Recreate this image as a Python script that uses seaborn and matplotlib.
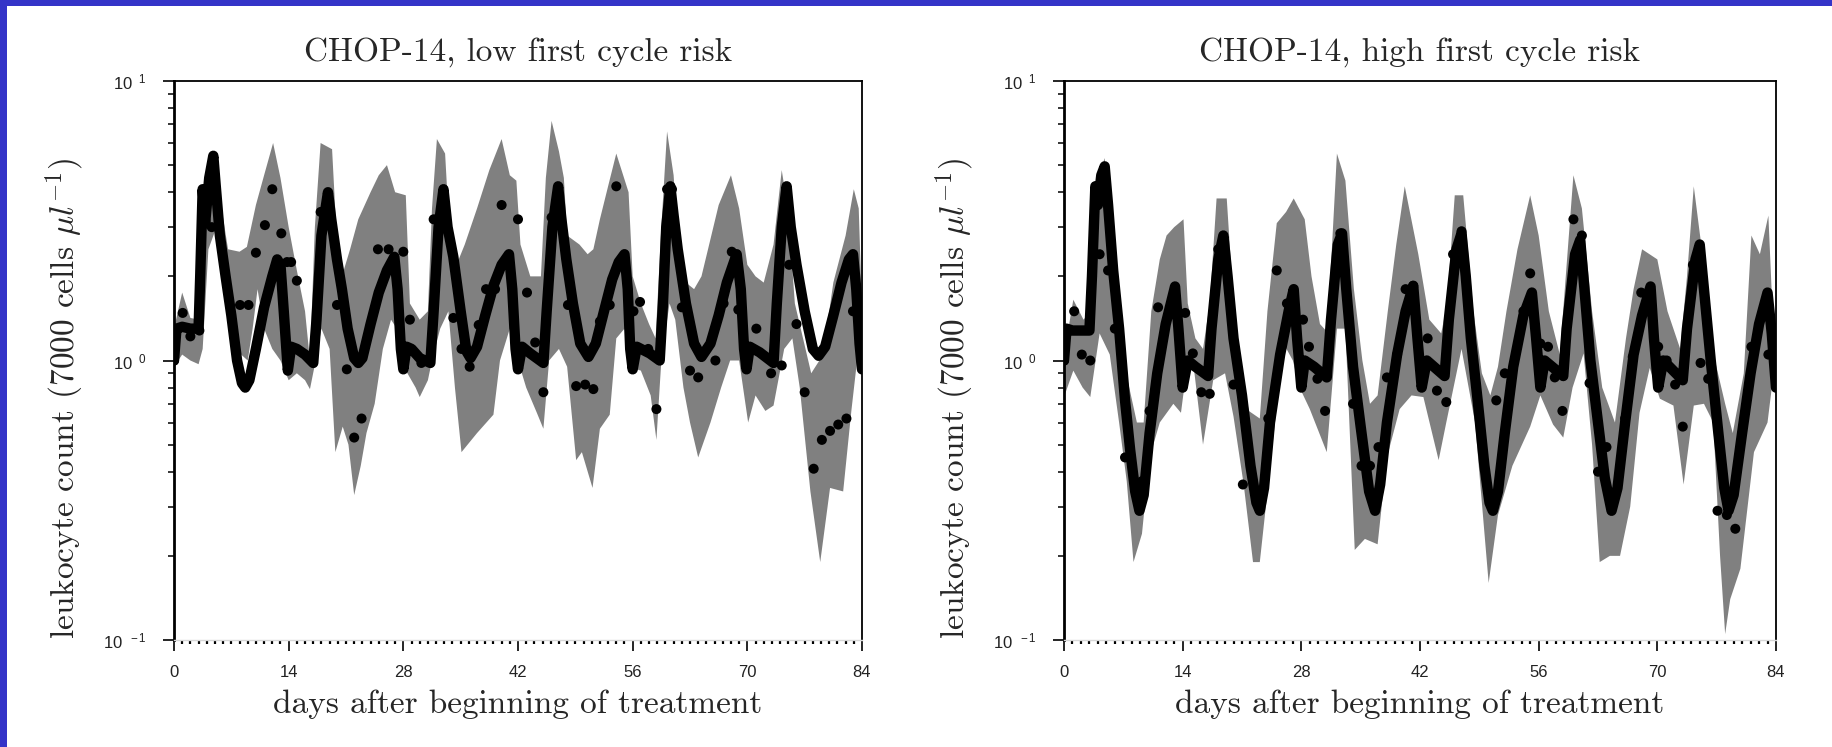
import numpy as np
import matplotlib
matplotlib.use("Agg")
import matplotlib.pyplot as plt
from matplotlib.patches import Rectangle
from matplotlib.ticker import MultipleLocator, NullFormatter
import seaborn as sns

# ---- low first cycle risk (left panel) ----
low_line_x = [0.0, 0.3, 1.0, 2.0, 3.0, 3.2, 3.5, 3.8, 4.3, 4.8, 5.1, 5.6, 6.3, 7.0, 7.7, 8.3, 8.7, 9.2, 10.0,
              11.0, 12.0, 12.6, 13.0, 13.4, 13.9, 14.3, 15.0, 16.0, 17.0, 17.4, 18.0, 18.8, 19.2, 19.9, 20.5,
              21.2, 22.0, 22.5, 23.0, 24.0, 25.0, 26.0, 26.9, 27.3, 27.7, 28.0, 28.4, 29.0, 30.0, 31.3, 31.7,
              32.3, 32.9, 33.4, 34.1, 35.0, 35.7, 36.2, 37.0, 38.0, 39.0, 40.0, 40.9, 41.3, 41.7, 42.0, 42.5,
              43.5, 45.1, 45.5, 46.2, 46.9, 47.3, 47.9, 48.7, 49.6, 50.6, 51.5, 52.5, 53.5, 54.3, 55.0, 55.4,
              55.7, 56.0, 56.5, 58.1, 59.3, 59.7, 60.1, 60.6, 61.0, 61.5, 62.5, 63.5, 64.4, 65.5, 66.5, 67.5,
              68.7, 69.2, 69.6, 69.9, 70.3, 71.5, 73.2, 73.6, 74.2, 74.8, 75.3, 76.0, 77.0, 78.0, 78.7, 79.5,
              80.5, 81.5, 82.4, 82.9, 83.3, 83.7, 84.0]
low_line_y = [1.0, 1.3, 1.32, 1.3, 1.3, 2.0, 4.1, 3.1, 4.5, 5.4, 4.2, 2.8, 2.0, 1.45, 1.0, 0.83, 0.8, 0.85, 1.1,
              1.55, 2.0, 2.3, 2.2, 1.5, 0.92, 1.12, 1.1, 1.05, 0.98, 1.4, 2.8, 4.0, 3.2, 2.3, 1.8,
              1.3, 1.02, 0.98, 1.02, 1.35, 1.75, 2.1, 2.35, 1.8, 1.1, 0.93, 1.12, 1.1, 1.02, 0.98, 1.5,
              3.0, 4.1, 3.0, 2.35, 1.5, 1.08, 1.02, 1.12, 1.45, 1.85, 2.2, 2.4, 1.8, 1.1, 0.93, 1.12,
              1.06, 0.98, 1.5, 3.0, 4.2, 3.2, 2.3, 1.6, 1.15, 1.03, 1.15, 1.5, 1.95, 2.25, 2.4, 1.8,
              1.1, 0.93, 1.12, 1.06, 1.0, 1.6, 3.0, 4.2, 3.3, 2.5, 1.6, 1.15, 1.03, 1.15, 1.45, 1.9,
              2.4, 1.8, 1.1, 0.93, 1.12, 1.07, 0.98, 1.6, 3.0, 4.2, 3.0, 2.2, 1.5, 1.1, 1.04, 1.12,
              1.45, 1.9, 2.3, 2.4, 1.8, 1.15, 0.93]

low_dots_x = [0.0, 1.06, 2.0, 3.1, 3.6, 4.6, 8.06, 9.1, 10.0, 11.1, 12.0, 13.1, 13.8, 14.3, 15.0, 17.9, 19.9,
              21.1, 22.0, 22.9, 24.9, 26.2, 28.0, 28.8, 30.2, 31.7, 34.1, 35.1, 36.1, 37.2, 38.1, 39.2, 40.0,
              42.0, 43.1, 44.1, 45.1, 46.1, 48.1, 49.1, 50.2, 51.2, 52.0, 53.2, 54.0, 56.1, 56.9, 57.9, 58.9,
              60.2, 60.8, 62.0, 63.0, 64.0, 66.1, 67.1, 68.1, 68.9, 71.1, 72.9, 74.2, 75.1, 76.0, 77.0, 78.1,
              79.1, 80.1, 81.1, 82.1, 82.9]
low_dots_y = [1.0, 1.48, 1.22, 1.28, 4.0, 3.0, 1.58, 1.58, 2.43, 3.05, 4.1, 2.85, 2.25, 2.25, 1.93, 3.4, 1.58,
              0.93, 0.53, 0.62, 2.5, 2.5, 2.45, 1.4, 0.98, 3.2, 1.42, 1.1, 0.95, 1.34, 1.8, 1.8, 3.6,
              3.2, 1.75, 1.16, 0.77, 3.25, 1.58, 0.81, 0.82, 0.79, 1.38, 1.58, 4.2, 1.5, 1.62, 1.1, 0.67,
              4.1, 4.1, 1.55, 0.92, 0.87, 1.0, 1.6, 2.45, 1.52, 1.3, 0.9, 0.96, 2.2, 1.35, 0.77, 0.41,
              0.52, 0.56, 0.59, 0.62, 1.5]

low_up_x = [0.0, 1.0, 2.0, 3.0, 3.5, 4.0, 4.8, 5.5, 6.6, 8.0, 8.9, 10.0, 11.0, 12.1, 13.0, 14.0, 15.0, 16.0,
            16.6, 17.2, 17.9, 19.3, 19.8, 20.5, 21.5, 22.5, 24.0, 25.0, 26.0, 27.0, 28.3, 28.8, 30.0, 31.0,
            31.5, 32.1, 33.1, 33.6, 34.5, 35.5, 37.0, 38.5, 40.0, 41.0, 41.8, 42.3, 43.5, 44.8, 45.4, 46.1,
            47.0, 47.6, 48.0, 49.5, 50.5, 51.2, 52.0, 53.0, 54.0, 55.5, 56.0, 57.0, 58.0, 58.8, 59.5, 60.2,
            61.0, 61.6, 62.5, 63.5, 64.4, 65.2, 66.5, 68.0, 69.0, 70.0, 71.0, 72.0, 73.2, 74.2, 75.0, 75.8,
            76.8, 77.8, 78.8, 80.0, 80.5, 82.0, 83.0, 83.6, 84.0]
low_up_y = [1.3, 1.75, 1.42, 1.4, 3.0, 4.8, 5.6, 4.0, 2.5, 2.45, 2.55, 3.6, 4.6, 6.0, 4.5, 3.0, 2.1, 1.5,
            1.0, 3.0, 6.0, 5.7, 3.0, 2.0, 2.5, 3.2, 4.0, 4.6, 5.0, 4.0, 3.9, 1.6, 1.4, 1.5,
            3.5, 6.2, 5.5, 3.0, 2.2, 2.6, 3.5, 4.8, 6.2, 4.6, 4.4, 2.6, 2.0, 2.0, 4.5, 7.2,
            5.6, 4.5, 2.8, 2.6, 2.4, 2.5, 3.2, 4.2, 5.5, 4.0, 2.0, 1.6, 1.35, 1.2, 3.0, 6.6,
            4.6, 2.5, 1.9, 1.8, 2.0, 2.5, 3.6, 4.6, 3.5, 2.2, 2.0, 1.9, 2.6, 4.8, 3.4, 1.6,
            1.2, 0.9, 1.0, 1.5, 1.9, 2.8, 4.1, 3.5, 1.5]
low_lo_x = [0.0, 1.0, 2.0, 3.0, 3.5, 4.2, 5.0, 5.8, 6.6, 7.5, 8.2, 9.0, 9.6, 10.2, 11.0, 12.0, 13.0, 14.0,
            15.0, 16.0, 16.6, 17.3, 18.0, 19.0, 19.7, 20.6, 21.3, 22.0, 22.8, 23.5, 24.5, 25.5, 26.5, 27.2,
            27.6, 28.5, 29.5, 30.0, 31.0, 31.5, 32.5, 33.5, 34.3, 35.1, 37.0, 39.0, 39.8, 41.0, 42.0, 43.0,
            44.3, 45.1, 45.8, 47.0, 48.0, 49.1, 49.8, 51.1, 52.0, 53.2, 54.0, 55.0, 56.0, 57.0, 58.2, 58.9,
            59.5, 60.5, 61.2, 62.2, 63.0, 64.0, 65.5, 66.8, 67.9, 69.0, 70.1, 71.0, 72.2, 73.2, 74.5, 75.5,
            76.4, 77.7, 78.9, 80.1, 81.7, 82.7, 83.4, 84.0]
low_lo_y = [0.95, 1.05, 1.0, 0.97, 1.1, 2.5, 2.9, 2.3, 1.7, 1.2, 1.05, 1.0, 1.3, 1.8, 1.3, 1.1, 1.0, 0.85,
            0.9, 0.85, 0.79, 1.0, 1.3, 1.1, 0.47, 0.58, 0.5, 0.33, 0.42, 0.55, 0.7, 1.1, 1.4, 1.3,
            0.95, 0.9, 0.8, 0.74, 0.85, 1.0, 1.3, 1.5, 0.8, 0.47, 0.55, 0.64, 1.0, 1.3, 1.0, 0.8,
            0.65, 0.57, 1.0, 1.1, 0.95, 0.44, 0.47, 0.35, 0.57, 0.64, 1.2, 1.3, 0.94, 0.92, 0.75, 0.52,
            1.0, 1.6, 1.4, 0.8, 0.6, 0.45, 0.6, 0.8, 1.0, 1.0, 0.6, 0.75, 0.66, 0.69, 1.1, 1.2,
            0.8, 0.34, 0.19, 0.35, 0.34, 0.66, 1.0, 0.95]

# ---- high first cycle risk (right panel) ----
high_line_x = [0.0, 0.3, 1.0, 2.0, 3.0, 3.3, 3.7, 4.0, 4.4, 4.8, 5.2, 5.8, 6.5, 7.2, 7.8, 8.4, 8.9, 9.4, 10.1,
               11.0, 12.0, 13.1, 13.5, 14.0, 14.6, 15.5, 17.0, 17.4, 18.2, 18.8, 19.3, 20.0, 21.0, 22.0, 22.7,
               23.1, 23.6, 24.3, 25.5, 26.5, 27.1, 27.5, 28.0, 28.4, 29.5, 31.0, 31.5, 32.3, 32.8, 33.3, 34.1,
               35.0, 36.0, 36.7, 37.3, 38.1, 39.3, 40.3, 41.2, 41.7, 42.2, 42.8, 44.9, 45.4, 46.3, 46.9, 47.4,
               48.0, 48.8, 49.6, 50.2, 50.6, 51.2, 52.0, 53.0, 54.2, 55.2, 55.7, 56.2, 56.7, 58.9, 59.3, 60.3,
               60.9, 61.4, 62.1, 63.0, 63.8, 64.6, 65.3, 66.2, 67.2, 68.2, 69.2, 69.6, 70.1, 70.7, 73.0, 73.5,
               74.5, 75.0, 75.5, 76.3, 77.2, 77.9, 78.4, 79.0, 80.0, 81.0, 82.0, 83.0, 83.5, 84.0]
high_line_y = [1.0, 1.3, 1.28, 1.28, 1.28, 2.0, 4.2, 3.6, 4.6, 4.95, 3.6, 2.1, 1.3, 0.72, 0.48, 0.34, 0.29, 0.33, 0.55,
               0.9, 1.35, 1.84, 1.3, 0.8, 1.0, 0.95, 0.88, 1.3, 2.3, 2.8, 2.0, 1.2, 0.75, 0.42, 0.31,
               0.29, 0.35, 0.6, 1.05, 1.5, 1.8, 1.2, 0.8, 1.0, 0.95, 0.87, 1.4, 2.6, 2.85, 1.8, 0.95,
               0.58, 0.34, 0.29, 0.36, 0.6, 1.05, 1.5, 1.85, 1.2, 0.8, 1.0, 0.88, 1.4, 2.5, 2.85, 2.0,
               1.2, 0.72, 0.42, 0.31, 0.29, 0.34, 0.55, 0.95, 1.45, 1.75, 1.2, 0.8, 1.0, 0.88, 1.3, 2.4,
               2.7, 1.8, 1.0, 0.6, 0.38, 0.29, 0.35, 0.6, 1.05, 1.45, 1.84, 1.2, 0.8, 1.0, 0.85, 1.3,
               2.3, 2.6, 1.8, 1.0, 0.55, 0.35, 0.29, 0.33, 0.55, 0.9, 1.35, 1.75, 1.25, 0.8]

high_dots_x = [0.0, 1.2, 2.1, 3.1, 3.8, 4.2, 5.2, 6.0, 7.2, 9.2, 10.1, 11.1, 13.1, 14.3, 15.2, 16.2, 17.2, 18.2,
               20.0, 21.1, 24.1, 25.1, 26.3, 28.2, 28.9, 29.9, 30.8, 32.6, 34.1, 35.1, 36.1, 37.1, 38.1, 39.3,
               40.3, 41.2, 42.9, 44.0, 45.1, 45.9, 46.9, 51.0, 52.0, 54.2, 55.0, 56.2, 57.1, 57.9, 58.8, 60.1,
               61.1, 62.0, 63.0, 64.0, 66.2, 67.1, 68.1, 70.1, 71.1, 72.1, 73.0, 74.2, 75.1, 76.0, 77.1, 78.2,
               79.2, 81.1, 83.1]
high_dots_y = [1.0, 1.5, 1.05, 1.0, 4.2, 2.4, 2.1, 1.3, 0.45, 0.37, 0.66, 1.55, 1.5, 1.48, 1.06, 0.77, 0.76, 2.5,
               0.82, 0.36, 0.62, 2.1, 1.6, 1.4, 1.12, 0.86, 0.66, 2.85, 0.7, 0.42, 0.42, 0.49, 0.87, 1.05,
               1.8, 1.85, 1.2, 0.78, 0.71, 2.4, 2.9, 0.72, 0.9, 1.5, 2.05, 1.15, 1.12, 0.87, 0.66, 3.2,
               2.8, 0.83, 0.40, 0.49, 0.62, 1.03, 1.75, 1.12, 1.0, 0.82, 0.58, 2.2, 0.98, 0.86, 0.29, 0.28,
               0.25, 1.12, 1.05]

high_up_x = [0.0, 1.1, 2.3, 3.2, 3.7, 4.8, 5.8, 7.0, 8.6, 9.4, 10.3, 11.3, 12.1, 13.0, 14.1, 14.6, 15.5, 16.4,
             17.2, 18.0, 19.2, 20.0, 21.0, 21.8, 23.1, 24.0, 25.1, 26.2, 27.1, 28.4, 29.2, 30.2, 31.0, 31.6,
             32.2, 33.2, 34.2, 35.2, 36.1, 37.0, 38.2, 39.2, 40.2, 41.8, 43.1, 44.5, 45.2, 46.1, 47.1, 48.3,
             49.3, 50.3, 51.2, 52.2, 53.5, 55.0, 56.0, 57.2, 58.5, 59.3, 60.1, 61.1, 62.3, 63.5, 65.0, 66.3,
             67.2, 68.2, 70.0, 71.2, 72.7, 73.5, 74.3, 75.4, 76.8, 78.0, 78.9, 80.2, 81.1, 82.1, 83.1, 84.0]
high_up_y = [1.05, 1.65, 1.4, 1.5, 4.2, 5.3, 2.0, 1.0, 0.6, 0.6, 1.5, 2.3, 2.8, 3.0, 3.2, 1.6, 1.2, 1.1,
             1.6, 3.8, 3.8, 1.6, 0.9, 0.66, 0.62, 1.5, 3.1, 3.4, 3.8, 3.2, 2.0, 1.35, 1.27, 2.5,
             5.5, 4.4, 1.8, 1.0, 0.7, 0.75, 1.5, 2.6, 4.2, 2.4, 1.4, 1.25, 1.6, 3.9, 3.9, 1.5,
             0.9, 0.75, 0.95, 1.5, 2.5, 3.9, 2.8, 1.5, 1.05, 2.2, 4.6, 3.5, 1.5, 0.8, 0.6, 1.2,
             1.8, 2.5, 2.3, 1.5, 1.1, 2.0, 4.2, 2.3, 1.0, 0.7, 0.55, 0.9, 2.8, 2.4, 3.3, 0.78]
high_lo_x = [0.0, 1.1, 2.2, 3.1, 4.2, 5.4, 6.5, 7.4, 8.2, 9.2, 10.1, 11.3, 12.9, 13.8, 14.5, 15.3, 16.4, 17.6,
             19.0, 20.0, 21.2, 22.3, 23.1, 24.3, 25.9, 27.0, 27.8, 29.0, 31.0, 32.2, 33.2, 34.3, 35.5, 37.0,
             38.1, 39.6, 41.0, 42.4, 44.2, 45.1, 46.9, 48.5, 50.1, 51.2, 52.9, 55.0, 56.2, 57.7, 58.9, 60.0,
             61.3, 62.3, 63.2, 64.4, 65.6, 66.8, 67.9, 69.1, 70.3, 71.9, 73.1, 74.3, 75.5, 76.6, 77.4, 78.0,
             78.6, 79.8, 81.4, 83.0, 84.0]
high_lo_y = [0.74, 0.92, 0.8, 0.74, 1.25, 1.05, 0.6, 0.37, 0.19, 0.24, 0.45, 0.6, 0.7, 0.65, 0.95, 0.95, 0.5, 0.85,
             0.9, 0.63, 0.36, 0.19, 0.19, 0.41, 1.15, 1.0, 0.8, 0.67, 0.47, 1.3, 1.3, 0.21, 0.23, 0.22,
             0.45, 0.67, 0.75, 0.74, 0.44, 0.6, 1.1, 0.6, 0.16, 0.28, 0.42, 0.58, 0.75, 0.59, 0.53, 0.8,
             1.06, 0.5, 0.19, 0.2, 0.2, 0.3, 0.65, 0.94, 0.73, 0.69, 0.36, 0.69, 0.7, 0.6, 0.2, 0.105,
             0.14, 0.18, 0.47, 0.6, 1.06]

titles = ["CHOP-14, low first cycle risk", "CHOP-14, high first cycle risk"]
xticks = [0, 14, 28, 42, 56, 70, 84]
yticks = [0.1, 1, 10]
ytick_labels = [r"$10^{\ \ -1}$", r"$10^{\ \ 0}$", r"$10^{\ \ 1}$"]

sns.set_style("ticks")
plt.rcParams["font.family"] = ["Liberation Sans", "DejaVu Sans"]
plt.rcParams["mathtext.fontset"] = "custom"
plt.rcParams["mathtext.rm"] = "Liberation Sans"
plt.rcParams["mathtext.it"] = "Liberation Sans:italic"

W, H = 1833, 747
fig = plt.figure(figsize=(W / 100, H / 100), dpi=100)
fig.patch.set_facecolor("#3434c8")
fig.add_artist(Rectangle((7 / W, 0), 1, (H - 6) / H, transform=fig.transFigure,
                         facecolor="white", edgecolor="none", zorder=-5))

ax_left = fig.add_axes([174 / W, 107 / H, 688 / W, 559 / H])
ax_right = fig.add_axes([1064 / W, 107 / H, 712 / W, 559 / H])

panels = [
    (ax_left, low_line_x, low_line_y, low_dots_x, low_dots_y, low_up_x, low_up_y, low_lo_x, low_lo_y, -0.128),
    (ax_right, high_line_x, high_line_y, high_dots_x, high_dots_y, high_up_x, high_up_y, high_lo_x, high_lo_y, -0.124),
]

serif = "cmr10"
for i, (ax, lx, ly, dx, dy, ux, uy, wx, wy, ylab_x) in enumerate(panels):
    ax.set_facecolor("white")
    ax.set_yscale("log")
    # confidence band
    ax.fill(np.concatenate([ux, wx[::-1]]), np.concatenate([uy, wy[::-1]]),
            color="#808080", lw=0, zorder=1)
    # model curve
    sns.lineplot(x=lx, y=ly, ax=ax, color="black", lw=7.5, sort=False, estimator=None,
                 zorder=3, solid_capstyle="round", solid_joinstyle="round")
    # observed
    sns.scatterplot(x=dx, y=dy, ax=ax, color="black", s=52, edgecolor="none", zorder=4)

    ax.set_xlim(0, 84)
    ax.set_ylim(0.1, 10)
    ax.set_xticks(xticks)
    ax.set_xticklabels([str(t) for t in xticks])
    ax.xaxis.set_minor_locator(MultipleLocator(1))
    ax.set_yticks(yticks)
    ax.set_yticklabels(ytick_labels)
    ax.yaxis.set_minor_formatter(NullFormatter())
    ax.tick_params(axis="both", which="major", direction="out", length=8, width=1.2,
                   labelsize=12, colors="black", labelcolor="#222222")
    ax.tick_params(axis="y", which="major", pad=12)
    ax.tick_params(axis="x", which="major", pad=10)
    ax.tick_params(axis="y", which="minor", direction="out", length=4.5, width=1.1, colors="black")
    ax.tick_params(axis="x", which="minor", direction="out", length=3, width=1.6, colors="black")

    for side in ["top", "right"]:
        ax.spines[side].set_visible(True)
        ax.spines[side].set_color("black")
        ax.spines[side].set_linewidth(1.3)
    ax.spines["left"].set_color("black")
    ax.spines["left"].set_linewidth(2)
    ax.spines["bottom"].set_color("#d8d8d8")
    ax.spines["bottom"].set_linewidth(1)

    ax.set_title(titles[i], fontfamily=serif, fontsize=24, pad=15)
    ax.set_xlabel("days after beginning of treatment", fontfamily=serif, fontsize=24, labelpad=7)
    ax.set_ylabel(r"leukocyte count (7000 cells $\mu l^{-1}$)", fontfamily=serif, fontsize=24,
                  math_fontfamily="cm")
    ax.yaxis.set_label_coords(ylab_x, 0.433)

fig.savefig("out.png", dpi=100, facecolor=fig.get_facecolor())
